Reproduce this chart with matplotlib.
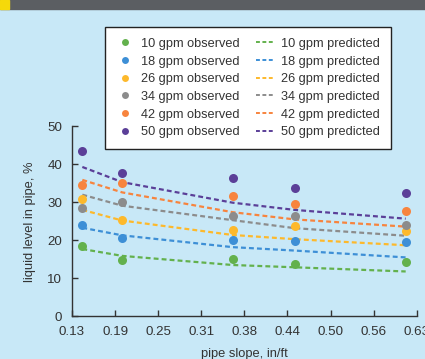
import matplotlib
matplotlib.use("Agg")
import matplotlib.pyplot as plt
from matplotlib.lines import Line2D
from matplotlib.patches import Rectangle

# pipe slope, in/ft (observation columns)
slope = [0.140, 0.198, 0.358, 0.448, 0.609]

flows = ["10", "18", "26", "34", "42", "50"]
colors = ["#63b14d", "#3d8fd6", "#fdb92c", "#8c8c8c", "#f7843e", "#5b3f98"]

observed = {
    "10": [18.4, 14.8, 15.0, 13.8, 14.4],
    "18": [23.9, 20.5, 20.0, 19.9, 19.6],
    "26": [31.0, 25.3, 22.7, 23.8, 22.5],
    "34": [28.5, 30.0, 26.3, 26.3, 23.9],
    "42": [34.5, 35.1, 31.6, 29.6, 27.8],
    "50": [43.4, 37.7, 36.3, 33.7, 32.4],
}

predicted = {
    "10": [17.7, 15.9, 13.5, 12.9, 11.8],
    "18": [23.3, 21.3, 18.2, 17.3, 15.5],
    "26": [28.0, 25.2, 21.4, 20.3, 18.7],
    "34": [32.0, 29.1, 25.3, 23.2, 21.2],
    "42": [35.9, 32.6, 27.4, 25.5, 23.6],
    "50": [39.3, 35.3, 29.9, 28.0, 25.7],
}

xticks = [0.125 + 0.0625 * i for i in range(9)]
xticklabels = ["0.13", "0.19", "0.25", "0.31", "0.38", "0.44", "0.50", "0.56", "0.63"]

bg = "#c8e8f7"
txt = "#333333"
plt.rcParams["font.family"] = ["Liberation Sans", "DejaVu Sans"]

fig = plt.figure(figsize=(4.25, 3.59), dpi=100, facecolor=bg)
# top banner
fig.patches.append(Rectangle((0, 0.975), 1, 0.025, transform=fig.transFigure,
                             color="#5b5e62", zorder=0))
fig.patches.append(Rectangle((0, 0.975), 0.021, 0.025, transform=fig.transFigure,
                             color="#f5d90a", zorder=1))

ax = fig.add_axes([0.1694, 0.1189, 0.8111, 0.5293])
ax.set_facecolor(bg)

obs_handles = []
pred_handles = []
for f, c in zip(flows, colors):
    ax.plot(slope, predicted[f], ls=(0, (2.2, 1.4)), color=c, lw=1.6, zorder=2)
    ax.plot(slope, observed[f], "o", color=c, ms=6.5, mec="none", zorder=3, clip_on=False)
    obs_handles.append(Line2D([], [], ls="none", marker="o", color=c, ms=5, mec="none",
                              label=f"{f} gpm observed"))
    pred_handles.append(Line2D([], [], ls=(0, (2.0, 1.3)), color=c, lw=1.4,
                               label=f"{f} gpm predicted"))

ax.set_xlim(0.125, 0.625)
ax.set_ylim(0, 50)
ax.set_xticks(xticks)
ax.set_xticklabels(xticklabels)
ax.set_yticks([0, 10, 20, 30, 40, 50])

for s in ["top", "right"]:
    ax.spines[s].set_visible(False)
for s in ["left", "bottom"]:
    ax.spines[s].set_color(txt)
    ax.spines[s].set_linewidth(1.0)
ax.tick_params(direction="in", length=4.5, width=1, colors=txt, labelsize=9.6, pad=7)

ax.set_xlabel("pipe slope, in/ft", fontsize=9.3, color=txt, labelpad=7)
ax.set_ylabel("liquid level in pipe, %", fontsize=9.3, color=txt, labelpad=8)

leg = fig.legend(handles=obs_handles + pred_handles, ncol=2, loc="upper left",
                 bbox_to_anchor=(105 / 425, 1 - 27 / 359), borderaxespad=0,
                 fontsize=9.2, frameon=True, fancybox=False, framealpha=1,
                 edgecolor="#222222", handlelength=1.45, handletextpad=0.5,
                 labelspacing=0.445, columnspacing=1.3, borderpad=0.85,
                 labelcolor=txt)
leg.get_frame().set_linewidth(1.0)

fig.savefig("out.png", dpi=100, facecolor=bg)
